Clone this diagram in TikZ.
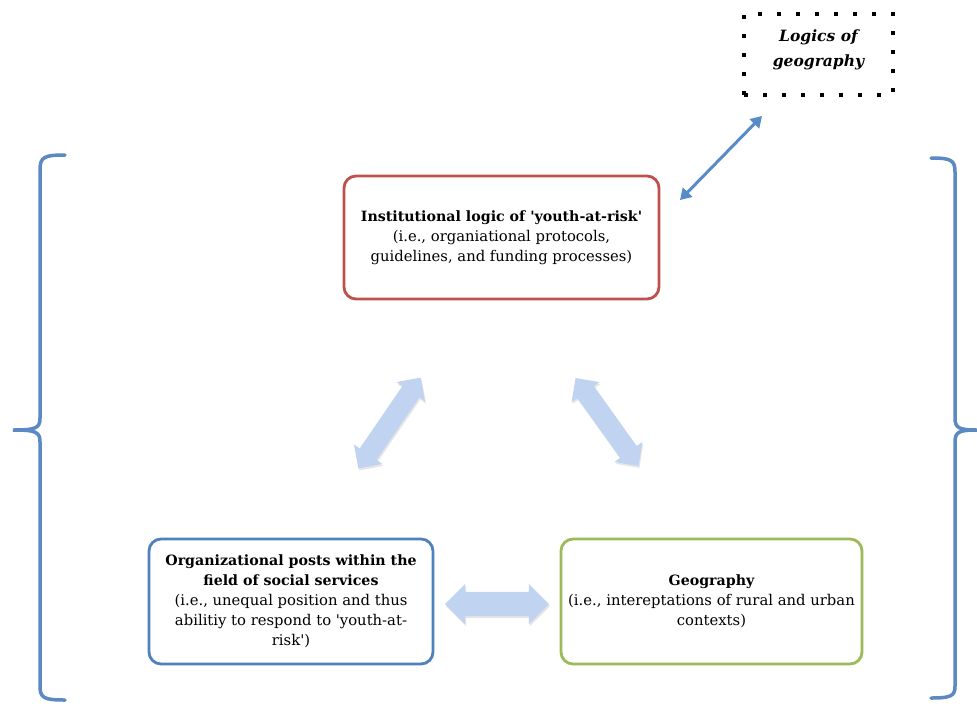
\documentclass[tikz,border=0pt]{standalone}
\usepackage{fontspec}
\setmainfont{DejaVu Serif}
\usetikzlibrary{shapes.arrows,shadows,arrows.meta}
\definecolor{redb}{RGB}{192,80,77}
\definecolor{blueb}{RGB}{79,129,189}
\definecolor{greenb}{RGB}{155,187,89}
\definecolor{brk}{RGB}{90,137,196}
\definecolor{arrf}{RGB}{192,211,240}
\definecolor{arrl}{RGB}{88,140,200}
\newcommand\bt[1]{{\fontsize{14.2}{20}\selectfont\bfseries #1}}
\begin{document}
\begin{tikzpicture}[x=1pt,y=-1pt,
  box/.style={draw, line width=2.8pt, rounded corners=12pt, fill=white, align=center, inner sep=0pt, font=\fontsize{14.8}{20}\selectfont},
  blk/.style={double arrow, fill=arrf, draw=none, inner xsep=0pt, double arrow head extend=7pt, drop shadow={opacity=0.2, shadow xshift=1pt, shadow yshift=-2pt}},
  brace/.style={draw=brk, line width=3.5pt, line cap=round},
  dotbox/.style={draw, line width=4pt, dash pattern=on 4pt off 15pt, align=center, inner sep=0pt, font=\fontsize{15.5}{25}\selectfont\bfseries\itshape},
]
\useasboundingbox[fill=white] (0,0) rectangle (977,705);

\node[box, draw=redb, minimum width=315pt, minimum height=123pt] (inst) at (501.5,237.5)
  {\bt{Institutional logic of \textquotesingle youth-at-risk\textquotesingle}\\(i.e., organiational protocols,\\guidelines, and funding processes)};
\node[box, draw=blueb, minimum width=284pt, minimum height=125pt] (org) at (291,601.5)
  {\bt{Organizational posts within the}\\\bt{field of social services}\\(i.e., unequal position and thus\\abilitiy to respond to \textquotesingle youth-at-\\risk\textquotesingle)};
\node[box, draw=greenb, minimum width=301pt, minimum height=125pt] (geog) at (711.5,601.5)
  {\bt{Geography}\\(i.e., intereptations of rural and urban\\contexts)};
\node[dotbox, minimum width=149pt, minimum height=81pt, text depth=13pt] (logic) at (818.5,54.5) {Logics of\\geography};

\coordinate (p1) at (762,116);
\coordinate (p2) at (680,200);
\draw[arrl, line width=3pt, {Triangle[length=11pt,width=13pt]}-{Triangle[length=11pt,width=13pt]}] (p1) -- (p2);

\node[blk, minimum height=110pt, inner ysep=10pt, rotate=55.6] (a1) at (389.5,423) {};
\node[blk, minimum height=108pt, inner ysep=10pt, rotate=-54.4] (a2) at (607,422) {};
\node[blk, minimum height=104pt, inner ysep=12pt, double arrow head extend=8pt] (a3) at (497,604) {};

\draw[brace] (65,155) .. controls (44,155) and (40,157) .. (40,170) -- (40,418)
  .. controls (40,428) and (36,430) .. (13,430)
  .. controls (36,430) and (40,432) .. (40,442) -- (40,686)
  .. controls (40,698) and (44,700) .. (65,700);
\draw[brace] (931,158) .. controls (951,158) and (955,160) .. (955,172) -- (955,418)
  .. controls (955,428) and (959,430) .. (977,430)
  .. controls (959,430) and (955,432) .. (955,442) -- (955,686)
  .. controls (955,696) and (951,698) .. (931,698);
\end{tikzpicture}
\end{document}
